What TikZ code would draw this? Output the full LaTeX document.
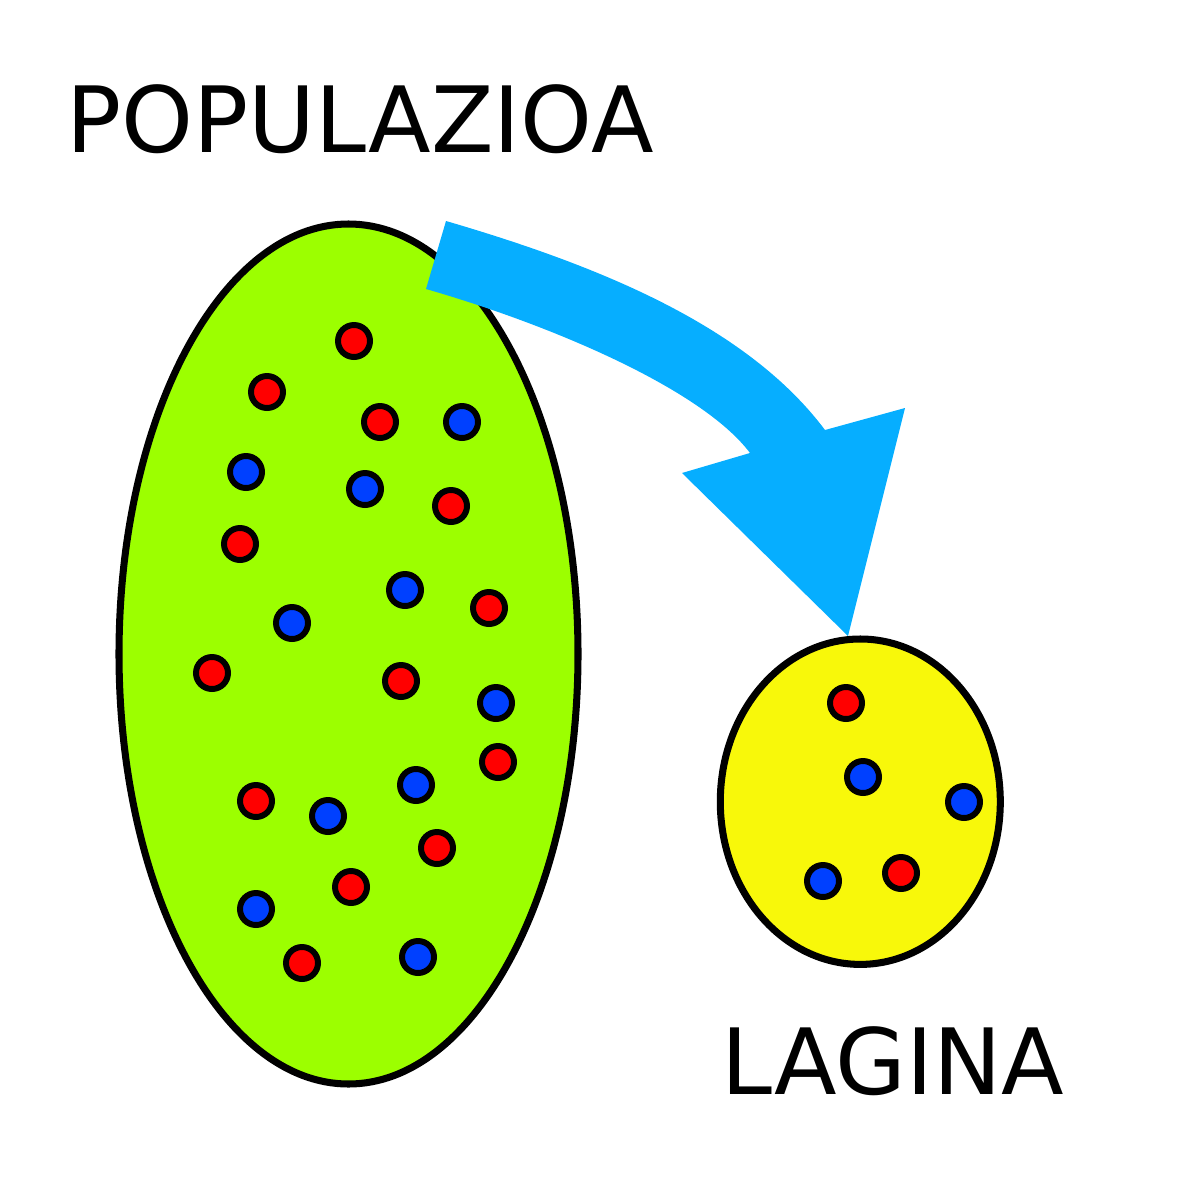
\documentclass[tikz,border=0pt]{standalone}
\usepackage{fontspec}
\setmainfont{DejaVu Sans}
\usepackage{xcolor}
\usepackage{tikz}

\definecolor{popgreen}{RGB}{156,255,0}
\definecolor{sampyellow}{RGB}{248,248,10}
\definecolor{dotred}{RGB}{255,0,0}
\definecolor{dotblue}{RGB}{0,64,255}
\definecolor{arrowblue}{RGB}{6,174,255}

\begin{document}
\begin{tikzpicture}[
    x=0.01cm, y=-0.01cm,
    cell/.style={draw=black, line width=2pt},
    reddot/.style={draw=black, line width=1.7pt, fill=dotred},
    bluedot/.style={draw=black, line width=1.7pt, fill=dotblue},
    title/.style={anchor=base west, inner sep=0pt, font=\fontsize{26}{30}\selectfont}
]
\useasboundingbox (0,0) rectangle (1200,1200);

% populazioa
\draw[cell, fill=popgreen] (348.5,654) ellipse (229.5 and 430);
\foreach \p in {(354,341),(267,392),(380,422),(451,506),(240,544),(489,608),
                (212,673),(401,681),(498,762),(256,801),(437,848),(351,887),(302,963)}
    \draw[reddot] \p circle (16);
\foreach \p in {(462,422),(246,472),(365,489),(405,590),(292,623),(496,703),
                (416,785),(328,816),(256,909),(418,957)}
    \draw[bluedot] \p circle (16);

% lagina
\draw[cell, fill=sampyellow] (860.3,801.7) ellipse (140 and 162.7);
\foreach \p in {(846,703),(901,873)}
    \draw[reddot] \p circle (16);
\foreach \p in {(863,777),(964,802),(823,881)}
    \draw[bluedot] \p circle (16);

% gezia
\fill[arrowblue] (446,221) .. controls (600,266) and (747,326) .. (825,430)
    -- (905,408) -- (848,636) -- (682,473) -- (750,453)
    .. controls (702,389) and (551,325) .. (426,289) -- cycle;

\node (pop) [title] at (66,152) {POPULAZIOA};
\node (lag) [title] at (721,1094) {LAGINA};

\end{tikzpicture}
\end{document}
